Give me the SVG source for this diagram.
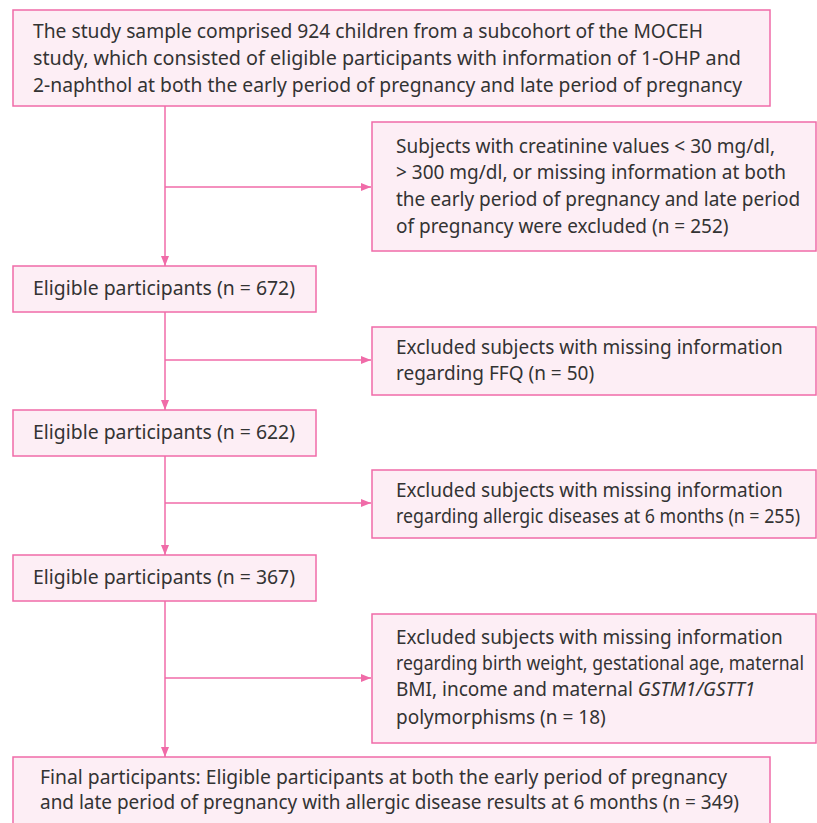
<svg xmlns="http://www.w3.org/2000/svg" width="817" height="823" viewBox="0 0 817 823">
<style>
.box{fill:#fdeef5;stroke:#f06ba8;stroke-width:1.5}
.t{font-family:"Noto Sans","DejaVu Sans",sans-serif;font-size:19px;fill:#333}
.c{fill:none;stroke:#f06ba8;stroke-width:1.5}
</style>
<defs>
<marker id="ah" viewBox="0 0 10 10" refX="10" refY="5" markerWidth="10" markerHeight="10" markerUnits="userSpaceOnUse" orient="auto">
<path d="M0,1 L10,5 L0,9 Z" fill="#f06ba8"/>
</marker>
</defs>
<rect width="817" height="823" fill="#fff"/>
<g id="connectors">
<path class="c" d="M165,106 V266" marker-end="url(#ah)"/>
<path class="c" d="M165,187 H371" marker-end="url(#ah)"/>
<path class="c" d="M165,312 V410" marker-end="url(#ah)"/>
<path class="c" d="M165,360 H371" marker-end="url(#ah)"/>
<path class="c" d="M165,456 V555" marker-end="url(#ah)"/>
<path class="c" d="M165,503 H371" marker-end="url(#ah)"/>
<path class="c" d="M165,601 V757" marker-end="url(#ah)"/>
<path class="c" d="M165,678 H371" marker-end="url(#ah)"/>
</g>
<g id="n1">
<rect class="box" x="13" y="10" width="757" height="96"/>
<text class="t" x="33" y="38" textLength="670" lengthAdjust="spacingAndGlyphs">The study sample comprised 924 children from a subcohort of the MOCEH</text>
<text class="t" x="33" y="65" textLength="708" lengthAdjust="spacingAndGlyphs">study, which consisted of eligible participants with information of 1-OHP and</text>
<text class="t" x="33" y="92" textLength="709" lengthAdjust="spacingAndGlyphs">2-naphthol at both the early period of pregnancy and late period of pregnancy</text>
</g>
<g id="x1">
<rect class="box" x="372" y="122" width="444" height="129"/>
<text class="t" x="396" y="153">Subjects with creatinine values &lt; 30 mg/dl,</text>
<text class="t" x="396" y="179">&gt; 300 mg/dl, or missing information at both</text>
<text class="t" x="396" y="206">the early period of pregnancy and late period</text>
<text class="t" x="396" y="233">of pregnancy were excluded (n = 252)</text>
</g>
<g id="n2">
<rect class="box" x="13" y="266" width="303" height="46"/>
<text class="t" x="33" y="295" textLength="262" lengthAdjust="spacingAndGlyphs">Eligible participants (n = 672)</text>
</g>
<g id="x2">
<rect class="box" x="372" y="327" width="444" height="68"/>
<text class="t" x="396" y="354">Excluded subjects with missing information</text>
<text class="t" x="396" y="380">regarding FFQ (n = 50)</text>
</g>
<g id="n3">
<rect class="box" x="13" y="410" width="303" height="46"/>
<text class="t" x="33" y="439" textLength="262" lengthAdjust="spacingAndGlyphs">Eligible participants (n = 622)</text>
</g>
<g id="x3">
<rect class="box" x="372" y="470" width="444" height="68"/>
<text class="t" x="396" y="497">Excluded subjects with missing information</text>
<text class="t" x="396" y="523" font-size="17.5" textLength="404" lengthAdjust="spacingAndGlyphs">regarding allergic diseases at 6 months (n = 255)</text>
</g>
<g id="n4">
<rect class="box" x="13" y="555" width="303" height="46"/>
<text class="t" x="33" y="584" textLength="262" lengthAdjust="spacingAndGlyphs">Eligible participants (n = 367)</text>
</g>
<g id="x4">
<rect class="box" x="372" y="614" width="444" height="129"/>
<text class="t" x="396" y="644">Excluded subjects with missing information</text>
<text class="t" x="396" y="670" font-size="17.5" textLength="408" lengthAdjust="spacingAndGlyphs">regarding birth weight, gestational age, maternal</text>
<text class="t" x="396" y="696">BMI, income and maternal <tspan font-style="italic">GSTM1/GSTT1</tspan></text>
<text class="t" x="396" y="724">polymorphisms (n = 18)</text>
</g>
<g id="n5">
<rect class="box" x="13" y="757" width="757" height="80"/>
<text class="t" x="40" y="784" textLength="687" lengthAdjust="spacingAndGlyphs">Final participants: Eligible participants at both the early period of pregnancy</text>
<text class="t" x="40" y="809" textLength="699" lengthAdjust="spacingAndGlyphs">and late period of pregnancy with allergic disease results at 6 months (n = 349)</text>
</g>
</svg>
